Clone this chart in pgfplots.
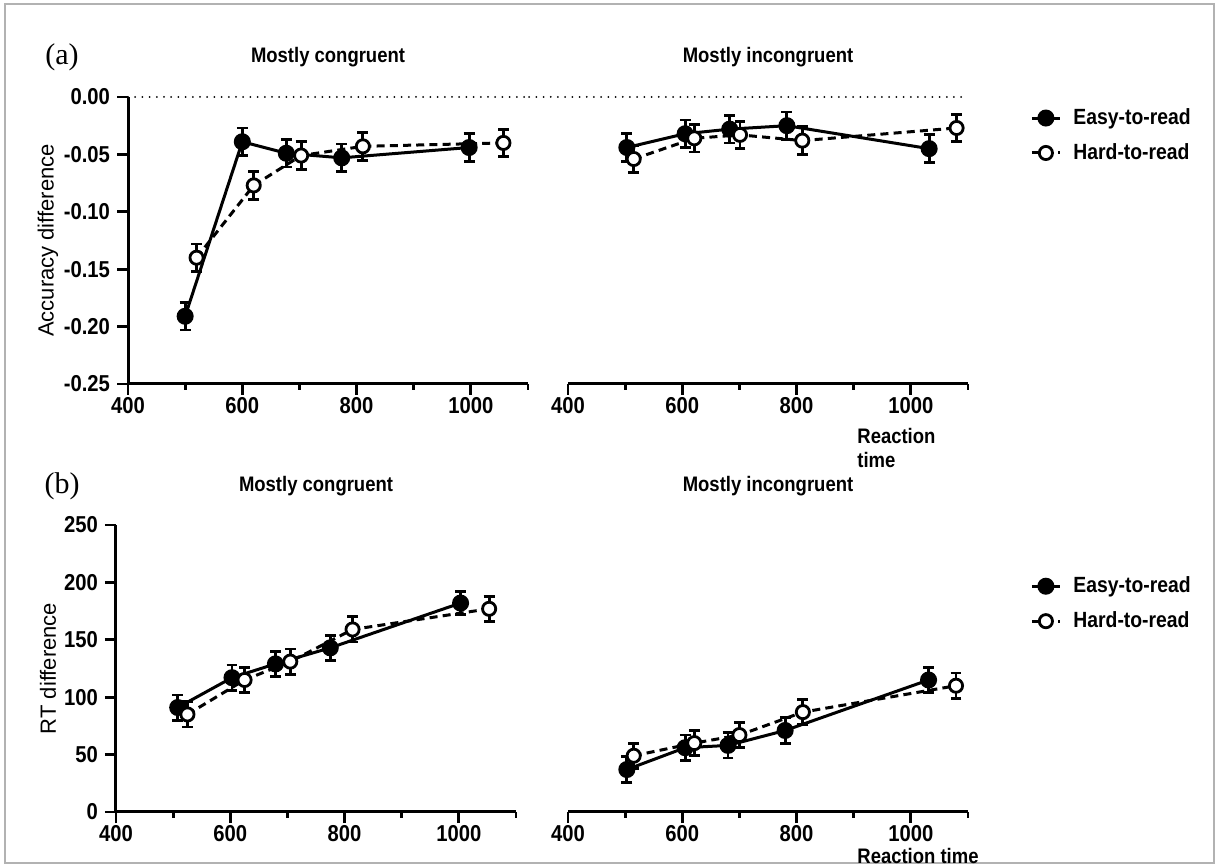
\documentclass[border=0pt]{standalone}
\usepackage{fontspec}
\setmainfont{Liberation Sans}
\newfontfamily\seriffont{Liberation Serif}
\newfontfamily\labfont{Liberation Sans}[FakeStretch=0.88]
\usepackage{pgfplots}
\usepackage{pgfplotstable}
\pgfplotsset{compat=1.18}

% (a) accuracy difference
\pgfplotstableread{
x y e
500 -0.191 0.012
600 -0.039 0.012
677 -0.049 0.012
774 -0.053 0.012
997 -0.044 0.012
}\aConEasy
\pgfplotstableread{
x y e
520 -0.140 0.012
620 -0.077 0.012
703 -0.051 0.012
811 -0.043 0.012
1057 -0.040 0.012
}\aConHard
\pgfplotstableread{
x y e
503 -0.044 0.012
605 -0.032 0.012
683 -0.028 0.012
783 -0.025 0.012
1032 -0.045 0.012
}\aIncEasy
\pgfplotstableread{
x y e
515 -0.054 0.012
621 -0.036 0.012
701 -0.033 0.012
810 -0.038 0.012
1080 -0.027 0.012
}\aIncHard
% (b) RT difference
\pgfplotstableread{
x y e
508 91 11
603 117 11
679 129 11
775 143 11
1003 182 10
}\bConEasy
\pgfplotstableread{
x y e
525 85 11
625 115 11
705 131 11
814 159 11
1053 177 11
}\bConHard
\pgfplotstableread{
x y e
503 37 11
605 56 11
680 58 11
780 71 11
1031 115 11
}\bIncEasy
\pgfplotstableread{
x y e
515 49 11
621 60 11
700 67 11
811 87 11
1079 110 11
}\bIncHard

\newcommand\labsize{\labfont\fontsize{10.5}{12}\selectfont\bfseries}
\newcommand\ticksize{\labfont\fontsize{11.5}{13}\selectfont\bfseries}
\newcommand\legsize{\labfont\fontsize{11}{13}\selectfont\bfseries}

\pgfplotsset{
  panel/.style={
    scale only axis, width=200pt, height=143.5pt,
    xmin=400, xmax=1100,
    xtick={400,600,800,1000}, minor xtick={500,700,900,1100},
    tick align=outside,
    major tick length=5.5pt, minor tick length=3pt,
    every tick/.style={black, line width=1.4pt},
    axis line style={line width=1.5pt, black},
    font=\ticksize,
    xticklabel style={inner sep=1.2pt},
    /pgf/number format/assume math mode=true,
    /pgf/number format/1000 sep={},
    clip=false,
    legend image code/.code={\draw[mark repeat=2, mark phase=2] plot coordinates {(0pt,0pt) (7pt,0pt) (14pt,0pt)};},
    legend style={draw=none, fill=none, inner sep=0pt, row sep=4pt,
      font=\legsize,
      /tikz/every odd column/.append style={column sep=4pt}},
    legend cell align=left,
  },
  leftpanel/.style={panel, axis x line*=bottom, axis y line*=left,
    ylabel style={font=\fontsize{11}{13}\selectfont\mdseries, anchor=center}},
  rightpanel/.style={panel, axis x line*=bottom, axis y line=none, ytick=\empty},
  errs/.style={error bars/.cd, y dir=both, y explicit,
    error bar style={line width=1.4pt, solid},
    error mark options={rotate=90, line width=1.4pt, mark size=2.7pt, solid}},
  easy/.style={black, line width=1.5pt, mark=*, mark size=3.5pt,
    mark options={solid, fill=black}},
  hard/.style={black, line width=1.5pt, dash pattern=on 4pt off 2.6pt,
    mark=*, mark size=3.3pt, mark options={solid, fill=white, line width=1.4pt}},
  zeroline/.style={black, line width=1pt, line cap=round, dash pattern=on 0pt off 3.6pt, forget plot},
}

\begin{document}
\begin{tikzpicture}
\useasboundingbox (0,0) rectangle (609.5pt,433pt);
\draw[gray!60, line width=0.8pt] (2.5pt,1.5pt) rectangle (607pt,431pt);

% ---------- (a) ----------
\begin{axis}[leftpanel, at={(64pt,241pt)}, anchor=south west,
  ymin=-0.25, ymax=0, ytick={-0.25,-0.20,-0.15,-0.10,-0.05,0},
  yticklabel style={/pgf/number format/.cd, fixed, fixed zerofill, precision=2},
  ylabel={Accuracy difference},
  ylabel style={at={(axis description cs:-0.2,0.5)}}]
\addplot[zeroline] coordinates {(400,0) (1100,0)};
\addplot[easy, errs] table[x=x, y=y, y error=e] {\aConEasy};
\addplot[hard, errs] table[x=x, y=y, y error=e] {\aConHard};
\end{axis}

\begin{axis}[rightpanel, at={(284pt,241pt)}, anchor=south west,
  ymin=-0.25, ymax=0,
  legend style={at={(axis description cs:1.155,0.975)}, anchor=north west}]
\addplot[zeroline] coordinates {(332,0) (1095,0)};
\addplot[easy, errs] table[x=x, y=y, y error=e] {\aIncEasy};
\addplot[hard, errs] table[x=x, y=y, y error=e] {\aIncHard};
\legend{Easy-to-read, Hard-to-read}
\end{axis}

% ---------- (b) ----------
\begin{axis}[leftpanel, at={(58pt,27pt)}, anchor=south west,
  ymin=0, ymax=250, ytick={0,50,...,250},
  ylabel={RT difference},
  ylabel style={at={(axis description cs:-0.17,0.5)}}]
\addplot[easy, errs] table[x=x, y=y, y error=e] {\bConEasy};
\addplot[hard, errs] table[x=x, y=y, y error=e] {\bConHard};
\end{axis}

\begin{axis}[rightpanel, at={(284pt,27pt)}, anchor=south west,
  ymin=0, ymax=250,
  legend style={at={(axis description cs:1.155,0.835)}, anchor=north west}]
\addplot[easy, errs] table[x=x, y=y, y error=e] {\bIncEasy};
\addplot[hard, errs] table[x=x, y=y, y error=e] {\bIncHard};
\legend{Easy-to-read, Hard-to-read}
\end{axis}

% panel letters, titles, x labels
\node[font=\seriffont\fontsize{15}{17}\selectfont] at (31pt,404.5pt) {(a)};
\node[font=\seriffont\fontsize{15}{17}\selectfont] at (31pt,190pt) {(b)};
\begin{scope}[font=\labsize]
\node at (164pt,404.5pt) {Mostly congruent};
\node at (384pt,404.5pt) {Mostly incongruent};
\node at (158pt,190pt) {Mostly congruent};
\node at (384pt,190pt) {Mostly incongruent};
\node[anchor=north west, align=left, inner sep=0pt] at (428.5pt,219pt) {Reaction\\time};
\node[anchor=west, inner sep=0pt] at (428.5pt,5pt) {Reaction time};
\end{scope}
\end{tikzpicture}
\end{document}
